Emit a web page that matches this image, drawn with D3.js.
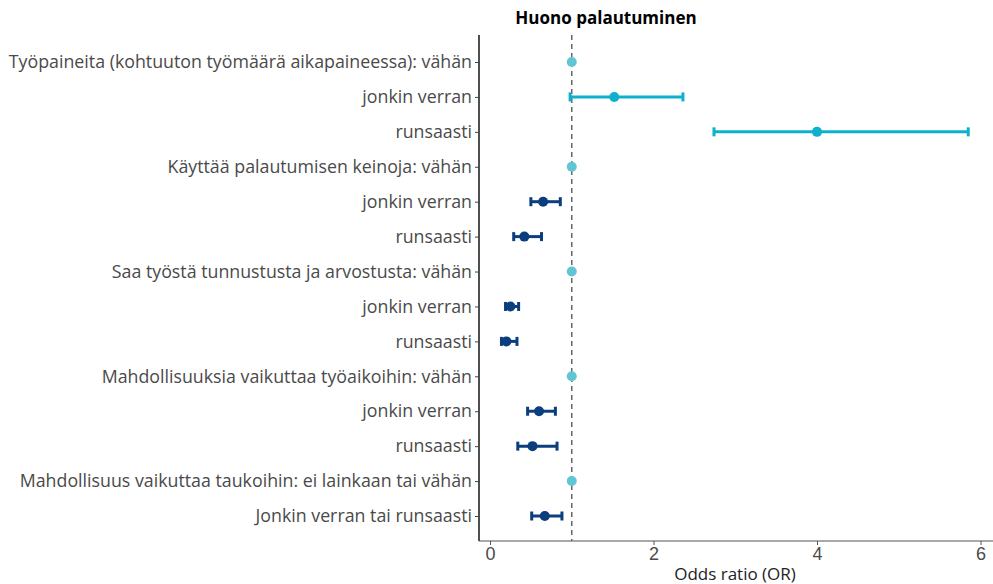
<!DOCTYPE html>
<html>
<head>
<meta charset="utf-8">
<script src="https://cdn.jsdelivr.net/npm/d3@7"></script>
<style>
  body { margin: 0; background: #fff; }
  svg { font-family: "Open Sans", "Noto Sans", sans-serif; }
</style>
</head>
<body>
<svg id="chart" width="993" height="584"></svg>
<script>
const labels = [
  'Työpaineita (kohtuuton työmäärä aikapaineessa): vähän',
  'jonkin verran',
  'runsaasti',
  'Käyttää palautumisen keinoja: vähän',
  'jonkin verran',
  'runsaasti',
  'Saa työstä tunnustusta ja arvostusta: vähän',
  'jonkin verran',
  'runsaasti',
  'Mahdollisuuksia vaikuttaa työaikoihin: vähän',
  'jonkin verran',
  'runsaasti',
  'Mahdollisuus vaikuttaa taukoihin: ei lainkaan tai vähän',
  'Jonkin verran tai runsaasti'
];
const oddsRatio = [1, 1.52, 4.0, 1, 0.65, 0.42, 1, 0.25, 0.20, 1, 0.60, 0.52, 1, 0.67];
const ciLower   = [null, 0.98, 2.74, null, 0.50, 0.29, null, 0.19, 0.14, null, 0.46, 0.34, null, 0.51];
const ciUpper   = [null, 2.36, 5.85, null, 0.86, 0.63, null, 0.35, 0.33, null, 0.80, 0.82, null, 0.88];
// 'ref' = reference level, 'up' = higher risk, 'down' = lower risk
const group     = ['ref', 'up', 'up', 'ref', 'down', 'down', 'ref', 'down', 'down', 'ref', 'down', 'down', 'ref', 'down'];
const xTicks = [0, 2, 4, 6];

const colors = { ref: '#62c5d6', up: '#0fb0cd', down: '#0b3e7d' };

const svg = d3.select('#chart');

const x = d3.scaleLinear().domain([0, 6]).range([490, 980.5]);
const y = d3.scalePoint().domain(d3.range(labels.length)).range([62, 516]);

const rows = labels.map((label, i) => ({
  i, label,
  or: oddsRatio[i], lo: ciLower[i], hi: ciUpper[i], g: group[i]
}));

// title
svg.append('text')
  .attr('x', 606).attr('y', 24)
  .attr('text-anchor', 'middle')
  .attr('font-size', 17).attr('font-weight', 'bold')
  .attr('fill', '#000')
  .text('Huono palautuminen');

// y axis
const yAxis = svg.append('g')
  .attr('transform', 'translate(479,0)')
  .call(d3.axisLeft(y).tickSize(4).tickPadding(3).tickFormat(i => labels[i]));
yAxis.select('.domain').attr('d', 'M0,35V541').attr('stroke', '#222').attr('stroke-width', 1.6);
yAxis.selectAll('.tick line').attr('stroke', '#444');
yAxis.selectAll('.tick text')
  .attr('font-size', 17.8).attr('fill', '#4a4a4a')
  .attr('font-family', '"Open Sans", sans-serif');

// x axis
const xAxis = svg.append('g')
  .attr('transform', 'translate(0,541)')
  .call(d3.axisBottom(x).tickValues(xTicks).tickSize(4).tickPadding(2).tickFormat(d3.format('d')));
xAxis.select('.domain').attr('d', 'M479,0H993').attr('stroke', '#555').attr('stroke-width', 1.2);
xAxis.selectAll('.tick line').attr('stroke', '#555');
xAxis.selectAll('.tick text').attr('font-size', 18).attr('fill', '#4a4a4a');

svg.append('text')
  .attr('x', 735).attr('y', 580)
  .attr('text-anchor', 'middle')
  .attr('font-size', 17).attr('fill', '#222')
  .text('Odds ratio (OR)');

// reference line at OR = 1
svg.append('line')
  .attr('x1', x(1)).attr('x2', x(1))
  .attr('y1', 35).attr('y2', 541)
  .attr('stroke', '#666').attr('stroke-width', 1.5)
  .attr('stroke-dasharray', '5,4');

// error bars
const bars = svg.selectAll('g.bar')
  .data(rows.filter(d => d.lo !== null))
  .enter().append('g')
  .attr('class', 'bar')
  .attr('stroke', d => colors[d.g])
  .attr('stroke-width', 3);

bars.append('line')
  .attr('x1', d => x(d.lo)).attr('x2', d => x(d.hi))
  .attr('y1', d => y(d.i)).attr('y2', d => y(d.i));
bars.append('line')
  .attr('x1', d => x(d.lo)).attr('x2', d => x(d.lo))
  .attr('y1', d => y(d.i) - 4.5).attr('y2', d => y(d.i) + 4.5);
bars.append('line')
  .attr('x1', d => x(d.hi)).attr('x2', d => x(d.hi))
  .attr('y1', d => y(d.i) - 4.5).attr('y2', d => y(d.i) + 4.5);

// points
svg.selectAll('circle.pt')
  .data(rows)
  .enter().append('circle')
  .attr('class', 'pt')
  .attr('cx', d => x(d.or))
  .attr('cy', d => y(d.i))
  .attr('r', 5)
  .attr('fill', d => colors[d.g]);
</script>
</body>
</html>
